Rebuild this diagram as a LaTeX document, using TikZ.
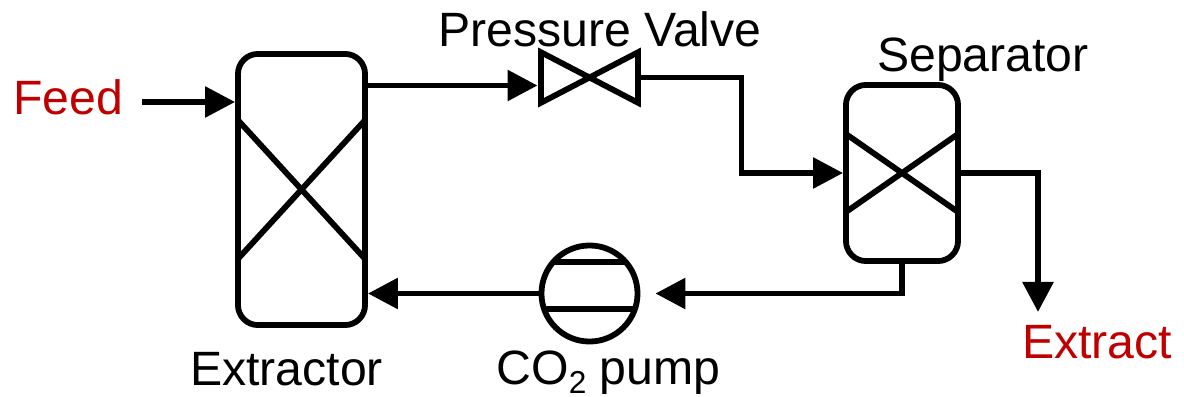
\documentclass[tikz,border=0pt]{standalone}
\usepackage{fontspec}
\setmainfont{Liberation Sans}
\usetikzlibrary{arrows.meta}
\definecolor{streamred}{RGB}{192,0,0}
\newcommand{\COtwo}{CO\raisebox{-0.38ex}{\fontsize{9}{10}\selectfont 2}}
\tikzset{
  pipe/.style={line width=0.058cm},
  packing/.style={pipe,shorten <=0.03cm,shorten >=0.03cm},
  vessel/.style={draw,pipe,rounded corners=0.2cm,inner sep=0pt,fill=white},
  lbl/.style={anchor=base,inner sep=0pt,font=\fontsize{13.7}{16}\selectfont},
}

\begin{document}
\begin{tikzpicture}[x=0.01cm,y=-0.01cm,>={Triangle[length=0.3cm,width=0.3cm]}]
  \useasboundingbox (0,0) rectangle (1184,397);
  % --- the two vessels, each with its packing cross ---
  \node[vessel,minimum width=1.27cm,minimum height=2.71cm] (extractor) at (301.5,189.5) {};
  \draw[packing] ([yshift=0.725cm]extractor.west) -- ([yshift=-0.725cm]extractor.east);
  \draw[packing] ([yshift=-0.725cm]extractor.west) -- ([yshift=0.725cm]extractor.east);
  \node[vessel,minimum width=1.12cm,minimum height=1.76cm] (separator) at (902,173) {};
  \draw[packing] ([yshift=0.41cm]separator.west) -- ([yshift=-0.41cm]separator.east);
  \draw[packing] ([yshift=-0.41cm]separator.west) -- ([yshift=0.41cm]separator.east);
  % --- pressure valve (bow tie) ---
  \node[inner sep=0pt,minimum width=0.955cm,minimum height=0.49cm] (valve) at (589.5,77.5) {};
  \draw[pipe] (valve.north west) -- (valve.south east) -- (valve.north east) -- (valve.south west) -- cycle;
  % --- pump with its two chords ---
  \node[draw,pipe,circle,inner sep=0pt,minimum size=0.96cm] (pump) at (589.5,293.5) {};
  \draw[pipe] ([shift={(-0.362cm,0.315cm)}]pump.center) -- ([shift={(0.362cm,0.315cm)}]pump.center);
  \draw[pipe] ([shift={(-0.454cm,-0.155cm)}]pump.center) -- ([shift={(0.454cm,-0.155cm)}]pump.center);
  % --- labels ---
  \node[lbl,text=streamred] (feed) at (68,114) {Feed};
  \node[lbl,text=streamred] (extract) at (1097,358) {Extract};
  \node[lbl] (valvelabel) at (600,47) {Pressure Valve};
  \node[lbl] (separatorlabel) at (983,71) {Separator};
  \node[lbl] (extractorlabel) at (286.5,385.5) {Extractor};
  \node[lbl] (pumplabel) at (608.5,384) {\COtwo{} pump};
  % --- free ends of the streams ---
  \coordinate (feedstart) at (142,102);
  \coordinate (valvein) at ([xshift=-0.035cm,yshift=-0.08cm]valve.west);
  \coordinate (valvebend) at (741.5,77.5);
  \coordinate (pumpin) at ([xshift=0.15cm]pump.east);
  \coordinate (extractend) at (1038,312);
  % --- streams ---
  \draw[pipe,->] (feedstart) -- (extractor.west |- feedstart);
  \draw[pipe,->] (extractor.east |- valvein) -- (valvein);
  \draw[pipe,->] (valve.east) -- (valvebend) |- (separator.west);
  \draw[pipe,->] (separator.east) -| (extractend);
  \draw[pipe,->] (separator.south) |- (pumpin);
  \draw[pipe,->] (pump.west) -- (extractor.east |- pump.west);
\end{tikzpicture}
\end{document}
